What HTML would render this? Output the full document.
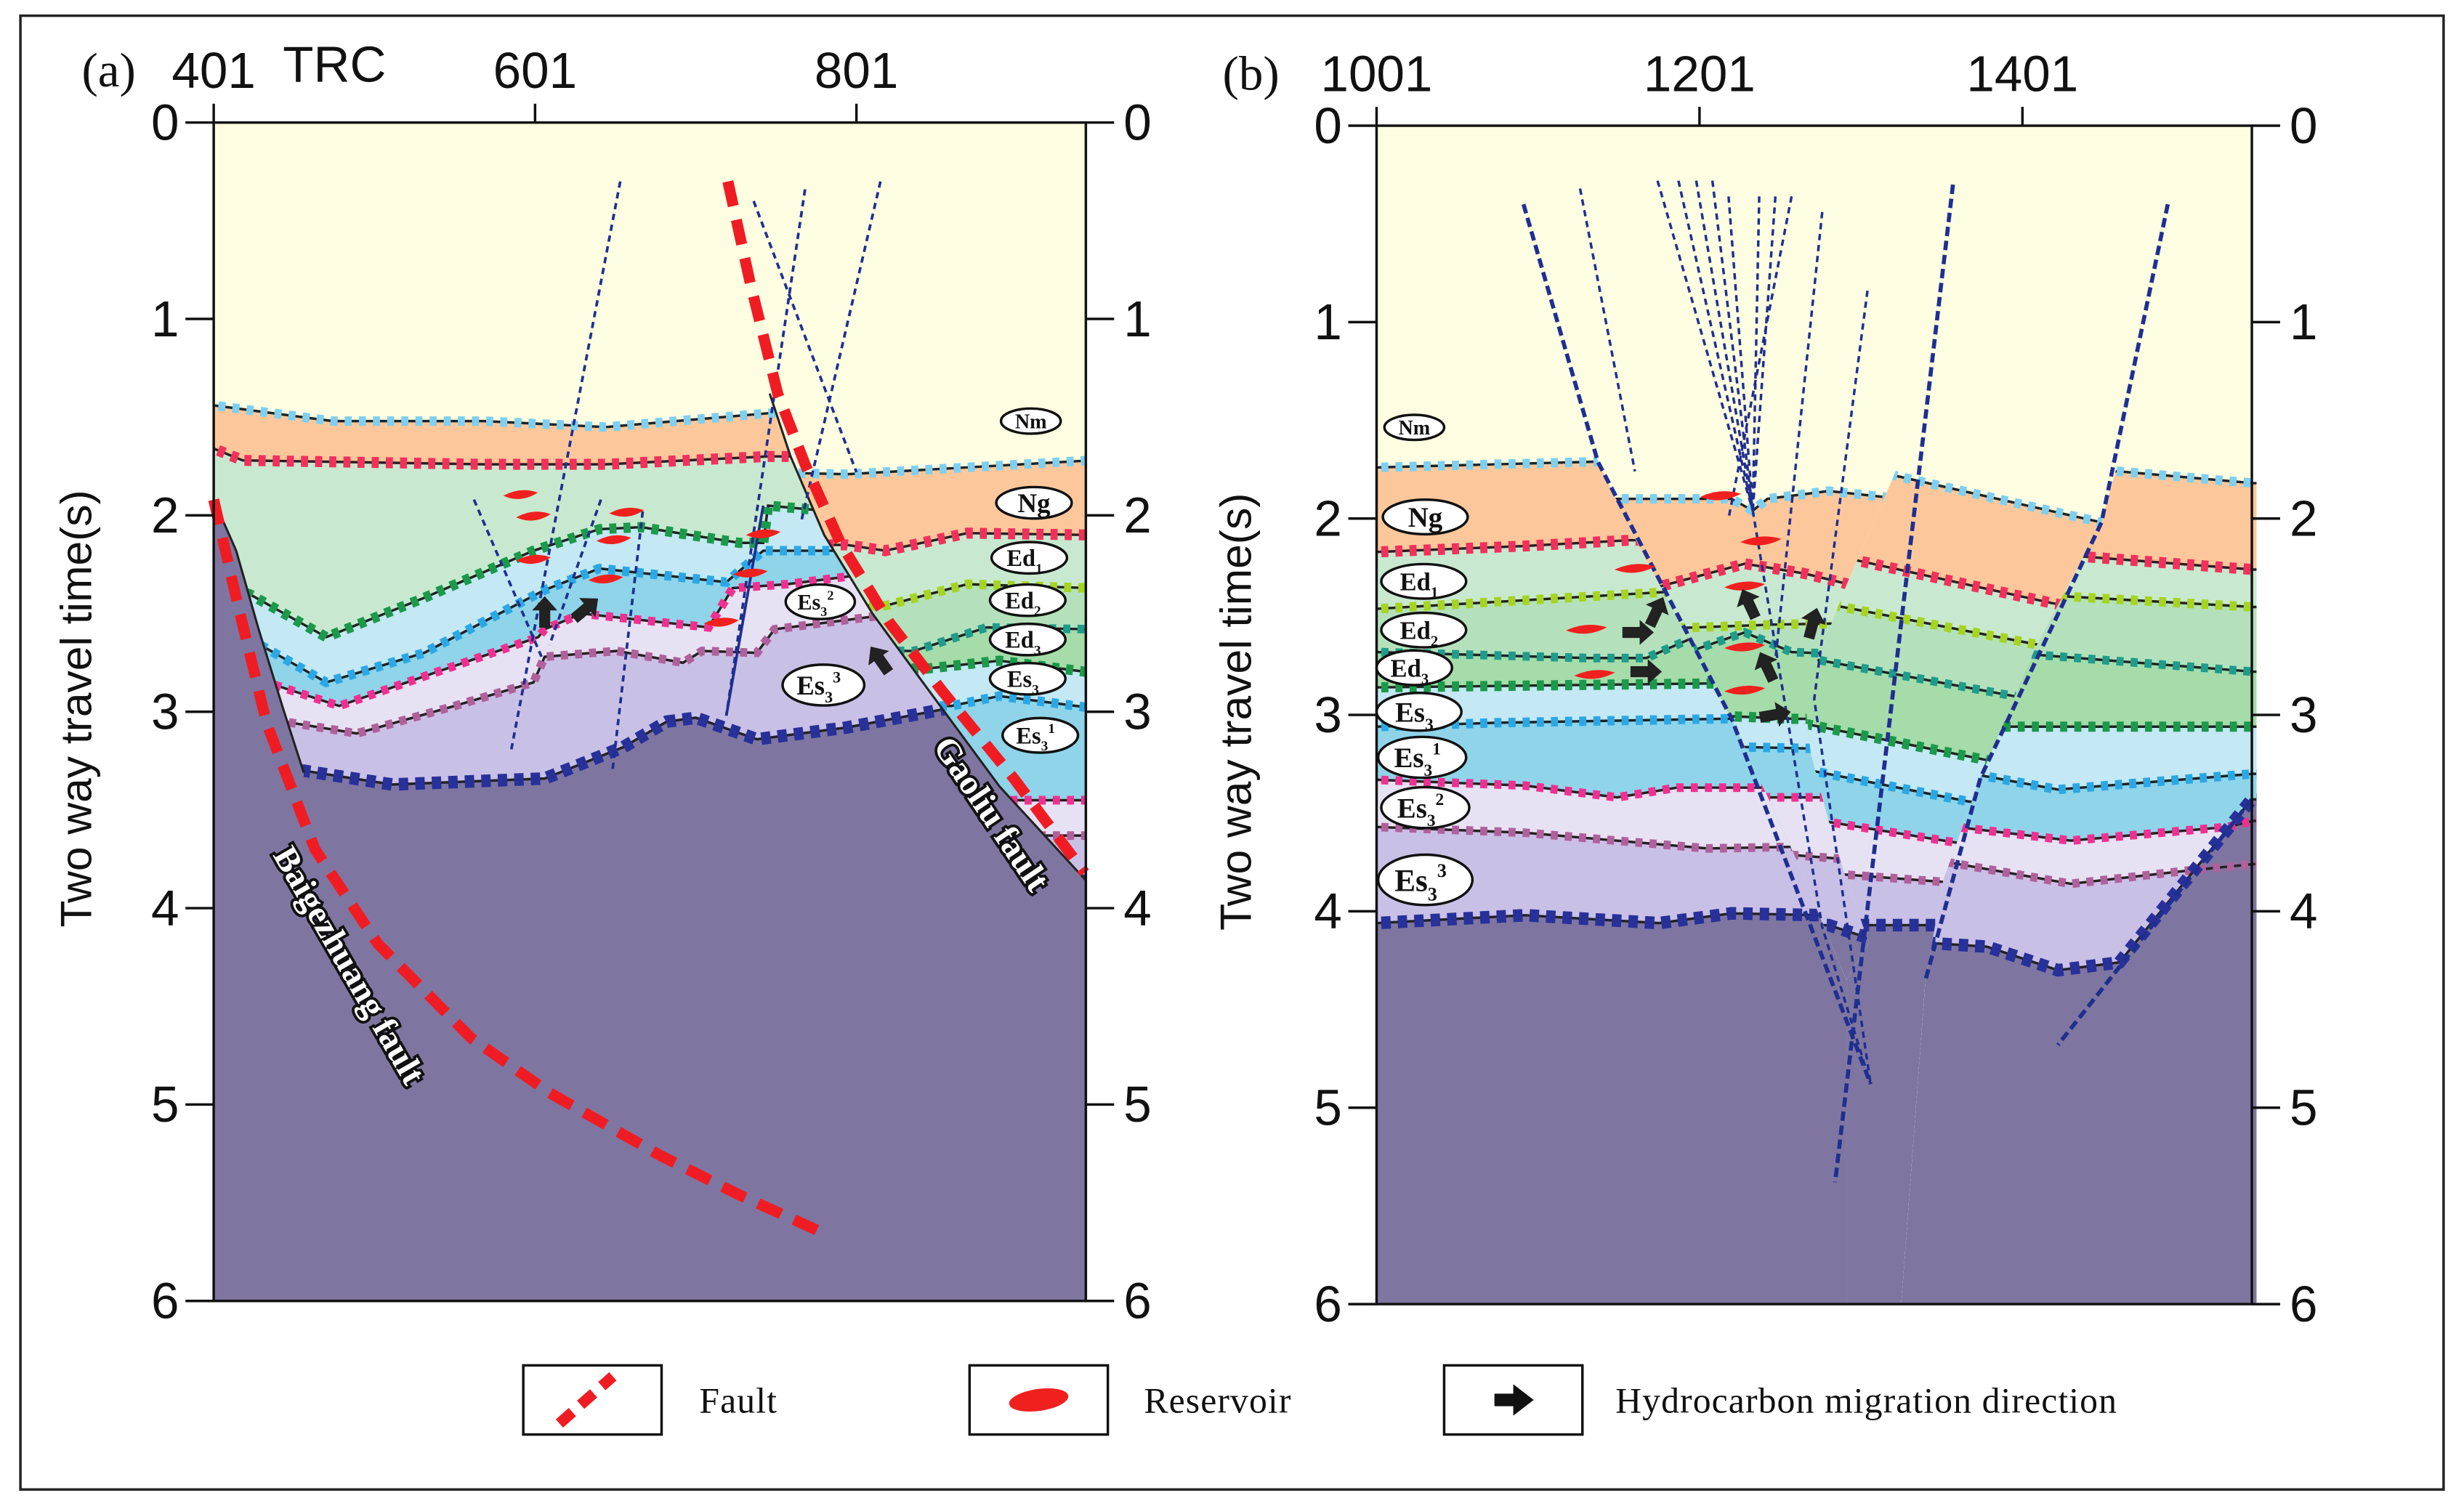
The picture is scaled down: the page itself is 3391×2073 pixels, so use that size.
<!DOCTYPE html>
<html><head><meta charset="utf-8">
<style>
html,body{margin:0;padding:0;background:#fff;}
svg{display:block;}
.serif{font-family:"Liberation Serif",serif;}
.sans{font-family:"Liberation Sans",sans-serif;}
</style></head>
<body>
<svg id="fig" xmlns="http://www.w3.org/2000/svg" width="3391" height="2073" viewBox="0 0 1568 958.5" preserveAspectRatio="none">
<rect x="0" y="0" width="1568" height="958.5" fill="#fff"/>
<rect x="13" y="10" width="1542" height="938" fill="none" stroke="#222" stroke-width="1.6"/>
<defs id="defs"></defs>
<g id="panelA"></g>
<g id="panelB"></g>
<g id="overlay"></g>
</svg>
<script>
// ---------- DATA (trace, time in seconds) ----------
const timeTicks = [0,1,2,3,4,5,6];
const traceTicksA = [401,601,801];
const traceTicksB = [1001,1201,1401];

// Panel A – block west of Gaoliu fault
const aL_nm   = [[401,1.44],[475,1.52],[569,1.52],[645,1.55],[746,1.48],[786,1.47]];
const aL_ng   = [[401,1.66],[419,1.72],[569,1.74],[645,1.74],[746,1.70],[786,1.70]];
const aL_ed3  = [[401,2.35],[423,2.40],[471,2.62],[532,2.42],[600,2.18],[641,2.07],[667,2.06],[728,2.14],[743,2.14],[746,1.95],[786,1.98]];
const aL_es3  = [[401,2.62],[430,2.66],[471,2.85],[532,2.70],[607,2.38],[641,2.27],[720,2.34],[743,2.18],[816,2.18]];
const aL_es31 = [[401,2.82],[434,2.85],[479,2.97],[539,2.80],[603,2.62],[607,2.58],[630,2.50],[709,2.57],[724,2.37],[758,2.35],[816,2.29]];
const aL_es32 = [[401,3.02],[445,3.05],[490,3.11],[551,2.97],[600,2.85],[607,2.72],[652,2.69],[693,2.75],[705,2.69],[739,2.70],[750,2.58],[835,2.49]];
const aL_base = [[401,3.30],[457,3.30],[512,3.37],[607,3.34],[656,3.18],[683,3.05],[701,3.03],[739,3.14],[795,3.08],[860,2.98],[953,2.90]];
const aWestBasement = [[401,1.92],[415,2.18],[429,2.58],[444,2.98],[457,3.31]];
// Panel A – block east of Gaoliu fault
const aR_nm   = [[737,1.78],[795,1.79],[947,1.72]];
const aR_ng   = [[737,2.15],[795,2.15],[819,2.18],[870,2.09],[947,2.10]];
const aR_ed1  = [[796,2.46],[819,2.46],[870,2.35],[947,2.37]];
const aR_ed2  = [[816,2.69],[837,2.69],[882,2.57],[947,2.58]];
const aR_ed3  = [[825,2.78],[845,2.78],[890,2.74],[947,2.80]];
const aR_es3  = [[845,2.97],[860,2.97],[890,2.92],[947,2.98]];
const aR_es31 = [[855,3.45],[947,3.45]];
const aR_es32 = [[855,3.63],[947,3.63]];
const aR_base = [[855,3.86],[947,3.86]];
const gaoliuBoundary = [[728,0],[728,0.58],[747,1.38],[760,1.70],[781,2.10],[811,2.50],[845,2.88],[890,3.38],[944,3.86]];
const gaoliuFault = [[721,0.30],[735,0.82],[752,1.38],[769,1.74],[791,2.14],[821,2.54],[855,2.90],[899,3.34],[943,3.82]];
const baigeFault = [[401,1.92],[415,2.42],[434,3.06],[464,3.70],[503,4.18],[561,4.66],[610,4.94],[679,5.26],[728,5.46],[782,5.66]];
const minorFaultsA = [
  [[654,0.30],[586,3.20]],[[563,1.92],[605,2.72]],[[642,1.92],[610,2.66]],[[668,1.98],[649,3.31]],
  [[737,0.40],[801,1.78]],[[769,0.34],[720,3.02]],[[816,0.30],[767,2.02]]
];
const reservoirsA = [[592,1.90],[600,2.01],[658,1.99],[650,2.13],[600,2.23],[645,2.33],[743,2.10],[735,2.30],[717,2.55]];
const arrowsA = [[607,2.50,-90],[632,2.48,-40],[816,2.74,-125]];

// Panel B – blocks
const bL_nm   = [[1001,1.74],[1138,1.71],[1180,1.71]];
const bL_ng   = [[1001,2.17],[1093,2.14],[1158,2.11],[1190,2.11]];
const bL_ed1  = [[1001,2.46],[1168,2.38],[1209,2.36]];
const bL_ed2  = [[1001,2.68],[1131,2.71],[1168,2.71],[1199,2.60],[1229,2.56]];
const bL_ed3  = [[1001,2.86],[1206,2.84],[1238,2.84]];
const bL_es3  = [[1001,3.06],[1075,3.04],[1213,3.02],[1258,3.02]];
const bL_es31 = [[1001,3.33],[1093,3.36],[1150,3.42],[1187,3.37],[1258,3.37]];
const bL_es32 = [[1001,3.57],[1093,3.60],[1206,3.68],[1268,3.67]];
const bL_base = [[1001,4.06],[1093,4.02],[1176,4.06],[1221,4.01],[1277,4.02]];

const bC_nm   = [[1141,1.90],[1221,1.90],[1234,1.96],[1243,1.90],[1281,1.86],[1326,1.90]];
const bC_ng   = [[1161,2.38],[1229,2.23],[1266,2.28],[1316,2.38]];
const bC_ed1  = [[1180,2.56],[1247,2.54],[1316,2.53]];
const bC_ed2  = [[1180,2.72],[1229,2.58],[1258,2.68],[1316,2.70]];
const bC_ed3  = [[1199,3.00],[1259,3.02],[1316,3.02]];
const bC_es3  = [[1209,3.16],[1266,3.17],[1316,3.17]];
const bC_es31 = [[1219,3.42],[1273,3.42],[1316,3.42]];
const bC_es32 = [[1238,3.70],[1285,3.73],[1316,3.73]];
const bC_base = [[1258,4.07],[1281,4.07],[1311,4.15],[1341,4.13]];

const bR1_nm   = [[1316,1.77],[1450,2.02],[1462,2.04]];
const bR1_ng   = [[1297,2.21],[1419,2.43],[1452,2.48]];
const bR1_ed1  = [[1277,2.43],[1409,2.64],[1443,2.68]];
const bR1_ed2  = [[1268,2.71],[1393,2.90],[1433,2.96]];
const bR1_ed3  = [[1263,3.04],[1379,3.23],[1414,3.28]];
const bR1_es3  = [[1268,3.28],[1367,3.44],[1404,3.48]];
const bR1_es31 = [[1277,3.54],[1360,3.65],[1394,3.68]];
const bR1_es32 = [[1287,3.81],[1352,3.85],[1384,3.88]];
const bR1_base = [[1287,4.07],[1348,4.07],[1379,4.18],[1423,4.30]];

const bR2_nm   = [[1443,1.76],[1461,1.76],[1544,1.82]];
const bR2_ng   = [[1433,2.19],[1544,2.26]];
const bR2_ed1  = [[1414,2.39],[1544,2.45]];
const bR2_ed2  = [[1404,2.69],[1544,2.78]];
const bR2_ed3  = [[1384,3.06],[1544,3.06]];
const bR2_es3  = [[1370,3.30],[1423,3.38],[1544,3.30]];
const bR2_es31 = [[1360,3.57],[1431,3.64],[1528,3.57],[1544,3.54]];
const bR2_es32 = [[1355,3.75],[1431,3.86],[1506,3.79],[1544,3.76]];
const bR2_base = [[1341,4.16],[1379,4.18],[1423,4.30],[1461,4.26],[1543,3.43]];

const faultF1 = [[1122,0],[1122,0.96],[1138,1.71],[1164,2.15],[1221,3.02],[1258,3.68],[1292,4.35]];
const faultF2 = [[1336,0],[1326,1.68],[1322,1.77],[1292,2.34],[1266,2.89],[1270,3.20],[1281,3.54],[1292,3.84],[1306,4.16],[1292,4.35]];
const faultF3 = [[1491,0],[1472,1.36],[1450,2.02],[1409,2.66],[1375,3.32],[1352,3.84],[1341,4.35],[1326,6]];

const majorFaultsB = [
  [[1092,0.40],[1138,1.71],[1221,3.02],[1307,4.88]],
  [[1358,0.30],[1285,5.38]],
  [[1491,0.40],[1450,2.02],[1375,3.32],[1341,4.35]],
  [[1543,3.43],[1423,4.68]]
];
const fanFaultsB = [
  [[1127,0.32],[1161,1.76]],[[1175,0.28],[1234,1.96]],[[1188,0.28],[1234,1.96]],[[1199,0.28],[1234,1.96]],
  [[1209,0.28],[1234,1.96]],[[1219,0.36],[1234,1.96]],[[1238,0.36],[1234,1.96]],[[1248,0.36],[1234,1.96]],
  [[1258,0.36],[1219,2.00]],[[1277,0.44],[1248,2.72]],[[1305,0.84],[1272,2.92],[1307,4.88]],
  [[1234,1.96],[1277,4.08],[1307,4.88]]
];
const reservoirsB = [[1161,2.26],[1214,1.89],[1239,2.12],[1229,2.35],[1131,2.57],[1136,2.80],[1229,2.66],[1229,2.88]];
const arrowsB = [[1162,2.58,0],[1174,2.48,-65],[1167,2.78,0],[1232,2.44,-115],[1243,2.76,-115],[1271,2.54,-75],[1247,3.00,-10]];

// ---------- STYLES ----------
const ST = {
  nm:{fill:'#fcc89b',stroke:'#7ecff0',w:6},
  ng:{fill:'#c8e9cf',stroke:'#f2305c',w:7},
  ed1:{fill:'#b4e1bb',stroke:'#a5d422',w:6},
  ed2:{fill:'#a5dca9',stroke:'#1e9c8c',w:5.5},
  ed3:{fill:'#c4e8f4',stroke:'#1a9a4a',w:6.5},
  es3:{fill:'#8fd4e9',stroke:'#2aa8e6',w:6},
  es31:{fill:'#e6e2f3',stroke:'#f03090',w:5.5},
  es32:{fill:'#c9c0e6',stroke:'#b0609a',w:5.5},
  base:{fill:'#7e76a0',stroke:'#28309a',w:8}
};
const NS='http://www.w3.org/2000/svg';
function mk(tag,attrs,parent){const e=document.createElementNS(NS,tag);for(const k in attrs)e.setAttribute(k,attrs[k]);if(parent)parent.appendChild(e);return e;}

const PA={x0:136,x1:691,y0:78,y1:828,x:t=>136+(t-401)*1.0225,y:s=>78+s*125};
const PB={x0:876,x1:1433,y0:80,y1:830,x:t=>876+(t-1001)*1.0275,y:s=>80+s*125};
const defs=document.getElementById('defs');
let clipId=0;
function pts(P,arr){return arr.map(p=>P.x(p[0]).toFixed(1)+','+P.y(p[1]).toFixed(1)).join(' ');}

function block(P,g,clipArr,layers,name){
  const id='clip'+(clipId++);
  const cp=mk('clipPath',{id:id},defs);
  mk('polygon',{points:pts(P,clipArr)},cp);
  const bg=mk('g',{'clip-path':'url(#'+id+')'},g);
  
  
  const X=p=>P.x(p[0]).toFixed(1), Y=p=>P.y(p[1]).toFixed(1);
  layers.forEach(([key,arr])=>{
    const f=arr[0], l=arr[arr.length-1];
    const poly=[(P.x0-60)+','+Y(f)].concat(arr.map(p=>X(p)+','+Y(p))).concat([(P.x1+60)+','+Y(l),(P.x1+60)+','+(P.y1+5),(P.x0-60)+','+(P.y1+5)]);
    const e=mk('polygon',{points:poly.join(' '),fill:ST[key].fill},bg);
    
    
  });
  layers.forEach(([key,arr])=>{
    const f=arr[0], l=arr[arr.length-1];
    const line=[(P.x0-60)+','+Y(f)].concat(arr.map(p=>X(p)+','+Y(p))).concat([(P.x1+60)+','+Y(l)]).join(' ');
    mk('polyline',{points:line,fill:'none',stroke:'#222','stroke-width':1.6},bg);
    const d=mk('polyline',{points:line,fill:'none',stroke:ST[key].stroke,'stroke-width':ST[key].w,'stroke-dasharray':key==='base'?'6 4.5':'4.5 4.5'},bg);
    
    
  });
  return bg;
}

function axes(P,g,ticks,labelX){
  const r=mk('rect',{x:P.x0,y:P.y0,width:P.x1-P.x0,height:P.y1-P.y0,fill:'none',stroke:'#111','stroke-width':1.6},g);
  
  
  timeTicks.forEach(s=>{
    const y=P.y(s);
    mk('line',{x1:P.x0-18,x2:P.x0,y1:y,y2:y,stroke:'#111','stroke-width':1.6},g);
    mk('line',{x1:P.x1,x2:P.x1+18,y1:y,y2:y,stroke:'#111','stroke-width':1.6},g);
    const t1=mk('text',{x:P.x0-22,y:y+11,'text-anchor':'end','font-size':32,class:'sans',fill:'#111'},g);
    t1.textContent=s;
    
    
    const t2=mk('text',{x:P.x1+24,y:y+11,'text-anchor':'start','font-size':32,class:'sans',fill:'#111'},g);
    t2.textContent=s;
    
    
  });
  ticks.forEach(t=>{
    const x=P.x(t);
    mk('line',{x1:x,x2:x,y1:P.y0-12,y2:P.y0,stroke:'#111','stroke-width':1.6},g);
    const tl=mk('text',{x:x,y:P.y0-22,'text-anchor':'middle','font-size':32,class:'sans',fill:'#111'},g);
    tl.textContent=t;
    
    
  });
  const cy=(P.y0+P.y1)/2-2;
  const yt=mk('text',{x:labelX,y:cy,'text-anchor':'middle','font-size':28,class:'sans',fill:'#111',transform:'rotate(-90 '+labelX+' '+cy+')'},g);
  yt.textContent='Two way travel time(s)';
  
  
}

function dashLine(P,g,arr,color,w,dash,name){
  const e=mk('polyline',{points:pts(P,arr),fill:'none',stroke:color,'stroke-width':w,'stroke-dasharray':dash},g);
  
  
  return e;
}
function lens(P,g,p,rx){
  const x=P.x(p[0]),y=P.y(p[1]);
  const e=mk('path',{d:'M'+(x-rx)+','+y+' Q'+x+','+(y-6)+' '+(x+rx)+','+(y-2)+' Q'+x+','+(y+5)+' '+(x-rx)+','+y+' Z',fill:'#f0201e'},g);
  
  
}
function arrow(P,g,a){
  const x=P.x(a[0]),y=P.y(a[1]);
  const e=mk('polygon',{points:'-9,-3.5 2,-3.5 2,-8 11,0 2,8 2,3.5 -9,3.5',fill:'#222',transform:'translate('+x+' '+y+') rotate('+a[2]+')'},g);
  
  
}

// ---------- PANEL A ----------
const gA=document.getElementById('panelA');
mk('rect',{x:PA.x0,y:PA.y0,width:PA.x1-PA.x0,height:PA.y1-PA.y0,fill:'#fdfde1'},gA);
mk('rect',{x:PA.x0,y:PA.y(3.9),width:PA.x1-PA.x0,height:PA.y1-PA.y(3.9),fill:'#7e76a0'},gA);
const leftClipA=[[401,0]].concat(gaoliuBoundary).concat([[944,6],[401,6]]);
const rightClipA=[[728,0],[944,0],[944,3.86]].concat(gaoliuBoundary.slice().reverse());
const bAL=block(PA,gA,leftClipA,[['nm',aL_nm],['ng',aL_ng],['ed3',aL_ed3],['es3',aL_es3],['es31',aL_es31],['es32',aL_es32],['base',aL_base]],'block-a-west');
const wb=aWestBasement.concat([[457,6],[395,6],[395,1.92]]);
const wbe=mk('polygon',{points:pts(PA,wb),fill:'#7e76a0'},bAL);


mk('polyline',{points:pts(PA,aWestBasement),fill:'none',stroke:'#222','stroke-width':1.4},bAL);
block(PA,gA,rightClipA,[['nm',aR_nm],['ng',aR_ng],['ed1',aR_ed1],['ed2',aR_ed2],['ed3',aR_ed3],['es3',aR_es3],['es31',aR_es31],['es32',aR_es32],['base',aR_base]],'block-a-east');
mk('polyline',{points:pts(PA,gaoliuBoundary.slice(2)),fill:'none',stroke:'#222','stroke-width':1.4},gA);
minorFaultsA.forEach(f=>dashLine(PA,gA,f,'#1f2f90',1.7,'4 3','minor-fault'));
dashLine(PA,gA,[[743,1.95],[720,3.02]],'#1f2f90',1.7,'none','fault-segment');
reservoirsA.forEach(p=>lens(PA,gA,p,11));
arrowsA.forEach(a=>arrow(PA,gA,a));
dashLine(PA,gA,gaoliuFault,'#f01c24',7,'16 9','gaoliu-fault');
dashLine(PA,gA,baigeFault,'#f01c24',7,'16 9','baigezhuang-fault');
axes(PA,gA,traceTicksA,58);

// ---------- PANEL B ----------
const gB=document.getElementById('panelB');
mk('rect',{x:PB.x0,y:PB.y0,width:PB.x1-PB.x0,height:PB.y1-PB.y0,fill:'#fdfde1'},gB);
mk('rect',{x:PB.x0,y:PB.y(4.3),width:PB.x1-PB.x0,height:PB.y1-PB.y(4.3),fill:'#7e76a0'},gB);
const clipBL=[[1001,0]].concat(faultF1).concat([[1292,6],[1001,6]]);
const clipBC=faultF1.concat(faultF2.slice().reverse());
const clipBR1=faultF2.concat([[1292,6]]).concat(faultF3.slice().reverse());
const clipBR2=faultF3.concat([[1546,6],[1546,0]]);
block(PB,gB,clipBL,[['nm',bL_nm],['ng',bL_ng],['ed1',bL_ed1],['ed2',bL_ed2],['ed3',bL_ed3],['es3',bL_es3],['es31',bL_es31],['es32',bL_es32],['base',bL_base]],'block-b-west');
block(PB,gB,clipBC,[['nm',bC_nm],['ng',bC_ng],['ed1',bC_ed1],['ed2',bC_ed2],['ed3',bC_ed3],['es3',bC_es3],['es31',bC_es31],['es32',bC_es32],['base',bC_base]],'block-b-graben');
block(PB,gB,clipBR1,[['nm',bR1_nm],['ng',bR1_ng],['ed1',bR1_ed1],['ed2',bR1_ed2],['ed3',bR1_ed3],['es3',bR1_es3],['es31',bR1_es31],['es32',bR1_es32],['base',bR1_base]],'block-b-middle');
block(PB,gB,clipBR2,[['nm',bR2_nm],['ng',bR2_ng],['ed1',bR2_ed1],['ed2',bR2_ed2],['ed3',bR2_ed3],['es3',bR2_es3],['es31',bR2_es31],['es32',bR2_es32],['base',bR2_base]],'block-b-east');
fanFaultsB.forEach(f=>dashLine(PB,gB,f,'#1f2f90',1.6,'4 3','minor-fault'));
majorFaultsB.forEach(f=>dashLine(PB,gB,f,'#1f2f90',2.6,'6 3','major-fault'));
reservoirsB.forEach(p=>lens(PB,gB,p,13));
arrowsB.forEach(a=>arrow(PB,gB,a));
axes(PB,gB,traceTicksB,796);

// ---------- LABELS ----------
const ov=document.getElementById('overlay');
function fmLabel(cx,cy,rx,ry,base,sub,sup,fs){
  const g=mk('g',{},ov);
  
  
  mk('ellipse',{cx:cx,cy:cy,rx:rx,ry:ry,fill:'#fff',stroke:'#111','stroke-width':1.6},g);
  const t=mk('text',{x:cx-(sub?3:0),y:cy+fs*0.35,'text-anchor':'middle','font-size':fs,'font-weight':'bold',class:'serif',fill:'#111'},g);
  t.appendChild(document.createTextNode(base));
  if(sub){const s=mk('tspan',{'font-size':fs*0.6,dy:fs*0.3},t);s.textContent=sub;}
  if(sup){const s=mk('tspan',{'font-size':fs*0.6,dy:-fs*0.75},t);s.textContent=sup;}
}
fmLabel(656,268,19,8,'Nm','','',13);
fmLabel(658,320,24,10,'Ng','','',17);
fmLabel(655,355,24,10,'Ed','1','',15);
fmLabel(654,382,24,10,'Ed','2','',15);
fmLabel(654,407,24,10,'Ed','3','',15);
fmLabel(654,432,24,10,'Es','3','',15);
fmLabel(662,468,24,11,'Es','3','1',15);
fmLabel(522,383,22,11,'Es','3','2',14);
fmLabel(524,436,26,13,'Es','3','3',17);
fmLabel(900,272,19,8,'Nm','','',13);
fmLabel(907,329,27,11,'Ng','','',18);
fmLabel(906,370,27,11,'Ed','1','',16);
fmLabel(906,401,27,11,'Ed','2','',16);
fmLabel(900,425,24,11,'Ed','3','',16);
fmLabel(903,453,27,12,'Es','3','',18);
fmLabel(905,482,28,13,'Es','3','1',18);
fmLabel(907,514,28,13,'Es','3','2',18);
fmLabel(907,560,30,16,'Es','3','3',20);

function faultText(x,y,ang,str,name){
  const t=mk('text',{x:x,y:y,'text-anchor':'middle','font-size':22,'font-weight':'bold',class:'serif',fill:'#fff',stroke:'#111','stroke-width':3.5,'paint-order':'stroke',transform:'rotate('+ang+' '+x+' '+y+')'},ov);
  t.textContent=str;
  
  
}
faultText(216,618,60,'Baigezhuang fault','baigezhuang-fault-label');
faultText(625,522,56,'Gaoliu fault','gaoliu-fault-label');

function txt(x,y,str,fs,cls,name){
  const t=mk('text',{x:x,y:y,'font-size':fs,class:cls,fill:'#111'},ov);
  t.textContent=str;
  
  
}
txt(52,55,'(a)',31,'serif','panel-a-label');
txt(180,52,'TRC',32,'sans','trace-unit-label');
txt(778,57,'(b)',31,'serif','panel-b-label');

// ---------- LEGEND ----------
const lg=mk('g',{},ov);


[[333,'Fault',445],[617,'Reservoir',728],[919,'Hydrocarbon migration direction',1028]].forEach(([bx,label,tx])=>{
  const r=mk('rect',{x:bx,y:869,width:88,height:44,fill:'#fff',stroke:'#111','stroke-width':1.6},lg);
  
  
  const t=mk('text',{x:tx,y:899,'font-size':23,class:'serif',fill:'#111','letter-spacing':'0.5'},lg);
  t.textContent=label;
  
  
});
mk('line',{x1:356,y1:906,x2:390,y2:876,stroke:'#f01c24','stroke-width':7,'stroke-dasharray':'11 7'},lg);
mk('ellipse',{cx:661,cy:891,rx:19,ry:7,fill:'#f0201e',transform:'rotate(-8 661 891)'},lg);
mk('polygon',{points:'951,887 963,887 963,881 976,891 963,901 963,895 951,895',fill:'#111'},lg);
</script>
</body></html>
